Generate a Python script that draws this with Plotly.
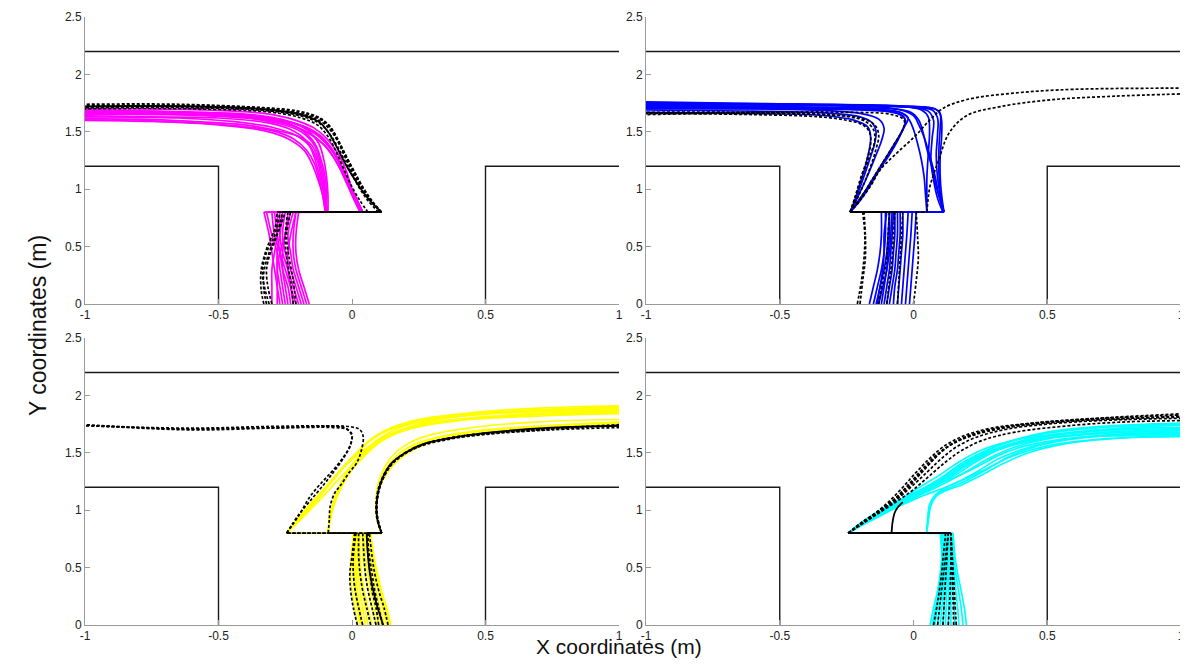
import plotly.graph_objects as go

# ---------------- environment (same in every panel) ----------------
WALL_TOP_X = [-1, 1]
WALL_TOP_Y = [2.2, 2.2]
WALL_LEFT_X = [-1, -0.5, -0.5]
WALL_LEFT_Y = [1.2, 1.2, 0]
WALL_RIGHT_X = [0.5, 0.5, 1]
WALL_RIGHT_Y = [0, 1.2, 1.2]

X_TICKS = [-1, -0.5, 0, 0.5, 1]
X_TICK_TEXT = ["-1", "-0.5", "0", "0.5", "1"]
Y_TICKS = [0, 0.5, 1, 1.5, 2, 2.5]
Y_TICK_TEXT = ["0", "0.5", "1", "1.5", "2", "2.5"]

# ---------------- panel 1 (magenta) ----------------
P1_COLOR_LOW = [
    [(-0.17, 0), (-0.19, 0.15), (-0.21, 0.3), (-0.22, 0.45), (-0.22, 0.6), (-0.21, 0.8)],
    [(-0.18, 0), (-0.20, 0.15), (-0.22, 0.3), (-0.23, 0.45), (-0.24, 0.6), (-0.22, 0.8)],
    [(-0.19, 0), (-0.21, 0.15), (-0.23, 0.3), (-0.25, 0.45), (-0.26, 0.6), (-0.25, 0.8)],
    [(-0.20, 0), (-0.22, 0.15), (-0.24, 0.3), (-0.26, 0.45), (-0.27, 0.6), (-0.27, 0.8)],
    [(-0.21, 0), (-0.23, 0.15), (-0.25, 0.3), (-0.27, 0.45), (-0.29, 0.6), (-0.30, 0.8)],
    [(-0.22, 0), (-0.23, 0.15), (-0.24, 0.3), (-0.24, 0.45), (-0.23, 0.6), (-0.21, 0.8)],
    [(-0.23, 0), (-0.24, 0.15), (-0.26, 0.3), (-0.27, 0.45), (-0.28, 0.6), (-0.29, 0.8)],
    [(-0.24, 0), (-0.25, 0.15), (-0.26, 0.3), (-0.26, 0.45), (-0.25, 0.6), (-0.23, 0.8)],
    [(-0.25, 0), (-0.26, 0.15), (-0.27, 0.3), (-0.28, 0.45), (-0.30, 0.6), (-0.32, 0.8)],
    [(-0.26, 0), (-0.27, 0.15), (-0.28, 0.3), (-0.28, 0.45), (-0.27, 0.6), (-0.26, 0.8)],
    [(-0.27, 0), (-0.28, 0.15), (-0.29, 0.3), (-0.30, 0.45), (-0.31, 0.6), (-0.33, 0.8)],
    [(-0.28, 0), (-0.28, 0.15), (-0.28, 0.3), (-0.27, 0.45), (-0.25, 0.6), (-0.24, 0.8)],
    [(-0.30, 0), (-0.30, 0.15), (-0.30, 0.3), (-0.29, 0.45), (-0.28, 0.6), (-0.28, 0.8)],
    [(-0.16, 0), (-0.18, 0.15), (-0.20, 0.3), (-0.21, 0.45), (-0.21, 0.6), (-0.20, 0.8)],
]
P1_COLOR_UP = [
    [(-0.095, 0.8), (-0.10, 0.95), (-0.11, 1.1), (-0.125, 1.25), (-0.15, 1.38), (-0.2, 1.46), (-0.28, 1.51), (-0.4, 1.56), (-0.6, 1.59), (-0.8, 1.61), (-1, 1.61)],
    [(-0.095, 0.8), (-0.10, 0.95), (-0.115, 1.1), (-0.13, 1.25), (-0.16, 1.38), (-0.22, 1.48), (-0.3, 1.54), (-0.45, 1.59), (-0.65, 1.62), (-1, 1.63)],
    [(-0.1, 0.8), (-0.105, 0.95), (-0.12, 1.1), (-0.14, 1.27), (-0.17, 1.42), (-0.23, 1.52), (-0.32, 1.58), (-0.5, 1.62), (-0.75, 1.63), (-1, 1.64)],
    [(-0.1, 0.8), (-0.1, 0.95), (-0.105, 1.1), (-0.12, 1.25), (-0.14, 1.38), (-0.19, 1.5), (-0.27, 1.57), (-0.4, 1.62), (-0.7, 1.65), (-1, 1.65)],
    [(-0.095, 0.8), (-0.095, 0.95), (-0.1, 1.1), (-0.115, 1.25), (-0.14, 1.4), (-0.19, 1.52), (-0.26, 1.59), (-0.4, 1.64), (-0.7, 1.66), (-1, 1.67)],
    [(-0.1, 0.8), (-0.11, 0.95), (-0.125, 1.1), (-0.14, 1.22), (-0.17, 1.34), (-0.22, 1.44), (-0.3, 1.51), (-0.42, 1.55), (-0.6, 1.58), (-1, 1.62)],
    [(-0.09, 0.8), (-0.09, 0.95), (-0.095, 1.1), (-0.105, 1.25), (-0.125, 1.4), (-0.17, 1.52), (-0.25, 1.6), (-0.38, 1.65), (-0.6, 1.67), (-1, 1.68)],
    [(-0.1, 0.8), (-0.11, 0.95), (-0.13, 1.1), (-0.15, 1.22), (-0.18, 1.34), (-0.24, 1.44), (-0.33, 1.51), (-0.5, 1.56), (-0.75, 1.59), (-1, 1.6)],
    [(0.04, 0.8), (0.02, 0.9), (0.0, 1.0), (-0.02, 1.15), (-0.05, 1.3), (-0.09, 1.43), (-0.14, 1.53), (-0.21, 1.6), (-0.33, 1.66), (-0.55, 1.69), (-0.8, 1.7), (-1, 1.7)],
    [(0.04, 0.8), (0.015, 0.92), (-0.01, 1.05), (-0.04, 1.2), (-0.08, 1.35), (-0.13, 1.47), (-0.2, 1.56), (-0.3, 1.62), (-0.5, 1.66), (-0.75, 1.68), (-1, 1.69)],
    [(0.03, 0.8), (0.005, 0.92), (-0.02, 1.05), (-0.05, 1.2), (-0.09, 1.35), (-0.15, 1.47), (-0.22, 1.55), (-0.32, 1.61), (-0.5, 1.65), (-1, 1.67)],
    [(0.04, 0.8), (0.01, 0.95), (-0.03, 1.12), (-0.07, 1.28), (-0.11, 1.4), (-0.17, 1.5), (-0.25, 1.57), (-0.38, 1.62), (-0.6, 1.65), (-1, 1.66)],
    [(0.035, 0.8), (0.01, 0.92), (-0.015, 1.05), (-0.04, 1.18), (-0.07, 1.32), (-0.11, 1.45), (-0.17, 1.54), (-0.26, 1.6), (-0.4, 1.64), (-0.7, 1.66), (-1, 1.68)],
    [(0.04, 0.8), (0.02, 0.88), (-0.005, 1.0), (-0.03, 1.15), (-0.06, 1.3), (-0.1, 1.42), (-0.16, 1.52), (-0.24, 1.59), (-0.36, 1.64), (-0.6, 1.67), (-1, 1.69)],
]
P1_DASH_LOW = [
    [(-0.31, 0), (-0.325, 0.12), (-0.335, 0.28), (-0.32, 0.45), (-0.29, 0.6), (-0.27, 0.8)],
    [(-0.32, 0), (-0.33, 0.12), (-0.33, 0.28), (-0.31, 0.45), (-0.28, 0.62), (-0.26, 0.8)],
    [(-0.30, 0), (-0.315, 0.15), (-0.32, 0.3), (-0.305, 0.45), (-0.28, 0.6), (-0.25, 0.8)],
    [(-0.22, 0), (-0.23, 0.2), (-0.245, 0.4), (-0.25, 0.6), (-0.24, 0.8)],
    [(-0.21, 0), (-0.22, 0.2), (-0.235, 0.4), (-0.245, 0.6), (-0.23, 0.8)],
    [(-0.33, 0), (-0.34, 0.12), (-0.34, 0.3), (-0.32, 0.48), (-0.29, 0.65), (-0.28, 0.8)],
]
P1_DASH_UP = [
    [(0.11, 0.8), (0.07, 0.9), (0.04, 1.0), (0.0, 1.15), (-0.03, 1.3), (-0.06, 1.45), (-0.09, 1.56), (-0.13, 1.63), (-0.2, 1.68), (-0.33, 1.71), (-0.6, 1.73), (-1, 1.73)],
    [(0.11, 0.8), (0.065, 0.92), (0.03, 1.05), (-0.005, 1.2), (-0.04, 1.36), (-0.07, 1.48), (-0.11, 1.58), (-0.17, 1.64), (-0.3, 1.69), (-0.55, 1.72), (-1, 1.72)],
    [(0.11, 0.8), (0.08, 0.88), (0.05, 0.98), (0.015, 1.12), (-0.02, 1.28), (-0.05, 1.42), (-0.08, 1.54), (-0.12, 1.62), (-0.2, 1.67), (-0.35, 1.71), (-0.65, 1.74), (-1, 1.74)],
    [(0.1, 0.8), (0.06, 0.9), (0.025, 1.02), (-0.01, 1.17), (-0.045, 1.33), (-0.08, 1.47), (-0.12, 1.57), (-0.18, 1.63), (-0.3, 1.68), (-0.6, 1.71), (-1, 1.71)],
    [(0.06, 0.8), (0.03, 0.9), (0.0, 1.02), (-0.03, 1.17), (-0.06, 1.33), (-0.09, 1.46), (-0.13, 1.56), (-0.19, 1.62), (-0.3, 1.67), (-0.6, 1.7), (-1, 1.7)],
    [(0.11, 0.8), (0.075, 0.9), (0.045, 1.0), (0.01, 1.15), (-0.025, 1.3), (-0.055, 1.44), (-0.085, 1.55), (-0.12, 1.61), (-0.2, 1.66), (-0.4, 1.7), (-1, 1.72)],
]
P1_MEAN_LOW = [(-0.1, 0.8)]
P1_MEAN_UP = [(0.11, 0.8), (0.06, 0.92), (0.02, 1.05), (-0.02, 1.2), (-0.06, 1.38), (-0.09, 1.5), (-0.12, 1.58), (-0.18, 1.64), (-0.3, 1.69), (-0.6, 1.72), (-1, 1.72)]

# ---------------- panel 2 (blue) ----------------
P2_COLOR_LOW = [
    [(-0.165, 0), (-0.15, 0.15), (-0.135, 0.3), (-0.125, 0.45), (-0.12, 0.6), (-0.12, 0.8)],
    [(-0.15, 0), (-0.135, 0.15), (-0.12, 0.3), (-0.11, 0.45), (-0.105, 0.6), (-0.105, 0.8)],
    [(-0.14, 0), (-0.125, 0.15), (-0.115, 0.3), (-0.11, 0.45), (-0.11, 0.6), (-0.1, 0.8)],
    [(-0.13, 0), (-0.115, 0.15), (-0.1, 0.3), (-0.095, 0.45), (-0.09, 0.6), (-0.09, 0.8)],
    [(-0.12, 0), (-0.11, 0.15), (-0.1, 0.3), (-0.09, 0.45), (-0.085, 0.6), (-0.08, 0.8)],
    [(-0.11, 0), (-0.1, 0.15), (-0.09, 0.3), (-0.085, 0.45), (-0.08, 0.6), (-0.075, 0.8)],
    [(-0.1, 0), (-0.09, 0.15), (-0.08, 0.3), (-0.075, 0.45), (-0.07, 0.6), (-0.07, 0.8)],
    [(-0.09, 0), (-0.08, 0.15), (-0.07, 0.3), (-0.065, 0.45), (-0.06, 0.6), (-0.06, 0.8)],
    [(-0.075, 0), (-0.07, 0.15), (-0.06, 0.3), (-0.055, 0.45), (-0.05, 0.6), (-0.05, 0.8)],
    [(-0.06, 0), (-0.055, 0.15), (-0.05, 0.3), (-0.045, 0.45), (-0.04, 0.6), (-0.04, 0.8)],
    [(-0.045, 0), (-0.04, 0.15), (-0.035, 0.3), (-0.03, 0.45), (-0.025, 0.6), (-0.02, 0.8)],
    [(-0.03, 0), (-0.025, 0.15), (-0.02, 0.3), (-0.015, 0.45), (-0.01, 0.6), (-0.005, 0.8)],
    [(-0.015, 0), (-0.01, 0.15), (-0.005, 0.3), (0.0, 0.45), (0.005, 0.6), (0.01, 0.8)],
    [(-0.135, 0), (-0.125, 0.15), (-0.11, 0.3), (-0.1, 0.45), (-0.095, 0.6), (-0.09, 0.8)],
]
P2_COLOR_UP = [
    [(0.114, 0.8), (0.105, 0.95), (0.1, 1.1), (0.1, 1.3), (0.105, 1.45), (0.105, 1.6), (0.095, 1.68), (0.06, 1.71), (-0.1, 1.73), (-0.4, 1.74), (-0.7, 1.75), (-1, 1.76)],
    [(0.114, 0.8), (0.1, 0.95), (0.09, 1.1), (0.085, 1.3), (0.09, 1.48), (0.09, 1.62), (0.07, 1.69), (0.02, 1.71), (-0.2, 1.73), (-0.6, 1.74), (-1, 1.75)],
    [(0.11, 0.8), (0.09, 0.92), (0.075, 1.08), (0.065, 1.25), (0.07, 1.45), (0.075, 1.6), (0.055, 1.68), (0.0, 1.71), (-0.3, 1.73), (-1, 1.74)],
    [(0.114, 0.8), (0.095, 0.95), (0.08, 1.12), (0.06, 1.3), (0.04, 1.45), (0.02, 1.56), (0.0, 1.64), (-0.05, 1.69), (-0.25, 1.71), (-0.6, 1.72), (-1, 1.73)],
    [(0.05, 0.8), (0.045, 0.95), (0.04, 1.1), (0.03, 1.25), (0.015, 1.4), (0.0, 1.52), (-0.015, 1.6), (-0.04, 1.66), (-0.15, 1.7), (-0.5, 1.71), (-1, 1.72)],
    [(0.05, 0.8), (0.05, 0.95), (0.05, 1.1), (0.055, 1.3), (0.06, 1.5), (0.055, 1.63), (0.03, 1.69), (-0.05, 1.72), (-0.4, 1.74), (-1, 1.75)],
    [(0.114, 0.8), (0.1, 0.9), (0.085, 1.02), (0.07, 1.18), (0.05, 1.35), (0.035, 1.5), (0.02, 1.6), (-0.01, 1.67), (-0.1, 1.71), (-0.5, 1.73), (-1, 1.74)],
    [(0.11, 0.8), (0.1, 0.95), (0.095, 1.15), (0.095, 1.35), (0.1, 1.55), (0.1, 1.65), (0.08, 1.7), (0.0, 1.72), (-0.35, 1.74), (-1, 1.73)],
    [(-0.237, 0.8), (-0.2, 0.92), (-0.16, 1.05), (-0.12, 1.2), (-0.08, 1.35), (-0.045, 1.5), (-0.03, 1.58), (-0.04, 1.64), (-0.1, 1.68), (-0.3, 1.7), (-0.6, 1.71), (-1, 1.72)],
    [(-0.237, 0.8), (-0.19, 0.95), (-0.15, 1.1), (-0.11, 1.25), (-0.07, 1.4), (-0.04, 1.52), (-0.03, 1.6), (-0.06, 1.66), (-0.2, 1.69), (-0.5, 1.7), (-1, 1.7)],
    [(-0.237, 0.8), (-0.22, 0.9), (-0.2, 1.05), (-0.18, 1.2), (-0.165, 1.35), (-0.16, 1.45), (-0.17, 1.54), (-0.22, 1.6), (-0.33, 1.64), (-0.6, 1.66), (-1, 1.67)],
    [(-0.237, 0.8), (-0.215, 0.92), (-0.19, 1.08), (-0.165, 1.25), (-0.145, 1.4), (-0.14, 1.5), (-0.155, 1.58), (-0.2, 1.63), (-0.3, 1.66), (-0.6, 1.68), (-1, 1.69)],
    [(-0.237, 0.8), (-0.205, 0.95), (-0.175, 1.1), (-0.145, 1.27), (-0.12, 1.42), (-0.11, 1.53), (-0.13, 1.61), (-0.2, 1.66), (-0.4, 1.69), (-1, 1.71)],
    [(-0.237, 0.8), (-0.2, 0.9), (-0.165, 1.02), (-0.13, 1.16), (-0.09, 1.3), (-0.06, 1.42), (-0.035, 1.54), (-0.02, 1.62), (-0.05, 1.67), (-0.2, 1.7), (-0.6, 1.72), (-1, 1.73)],
]
P2_DASH_LOW = [
    [(-0.21, 0), (-0.195, 0.2), (-0.185, 0.4), (-0.182, 0.6), (-0.19, 0.8)],
    [(-0.2, 0), (-0.19, 0.2), (-0.18, 0.4), (-0.18, 0.6), (-0.185, 0.8)],
    [(-0.1, 0), (-0.09, 0.2), (-0.08, 0.4), (-0.075, 0.6), (-0.07, 0.8)],
    [(0.0, 0), (0.01, 0.2), (0.018, 0.4), (0.015, 0.6), (0.01, 0.8)],
    [(-0.06, 0), (-0.055, 0.2), (-0.05, 0.4), (-0.045, 0.6), (-0.04, 0.8)],
    [(-0.13, 0), (-0.115, 0.2), (-0.1, 0.4), (-0.095, 0.6), (-0.09, 0.8)],
]
P2_DASH_UP = [
    [(-0.237, 0.8), (-0.22, 0.92), (-0.2, 1.08), (-0.175, 1.25), (-0.16, 1.4), (-0.165, 1.5), (-0.19, 1.56), (-0.25, 1.6), (-0.35, 1.63), (-0.6, 1.65), (-1, 1.66)],
    [(-0.237, 0.8), (-0.215, 0.95), (-0.19, 1.12), (-0.165, 1.28), (-0.145, 1.42), (-0.15, 1.52), (-0.18, 1.59), (-0.24, 1.63), (-0.4, 1.66), (-1, 1.67)],
    [(-0.237, 0.8), (-0.2, 0.9), (-0.16, 1.03), (-0.124, 1.17), (-0.06, 1.32), (0.005, 1.46), (0.06, 1.6), (0.107, 1.7), (0.198, 1.78), (0.39, 1.84), (0.6, 1.87), (1, 1.88)],
    [(0.05, 0.8), (0.055, 0.92), (0.062, 1.03), (0.08, 1.16), (0.095, 1.26), (0.133, 1.49), (0.198, 1.64), (0.326, 1.72), (0.52, 1.78), (0.75, 1.81), (1, 1.83)],
    [(-0.237, 0.8), (-0.19, 0.95), (-0.15, 1.1), (-0.11, 1.25), (-0.07, 1.4), (-0.04, 1.52), (-0.035, 1.6), (-0.08, 1.65), (-0.25, 1.67), (-0.6, 1.67), (-1, 1.66)],
    [(-0.237, 0.8), (-0.21, 0.92), (-0.185, 1.05), (-0.16, 1.2), (-0.14, 1.35), (-0.13, 1.47), (-0.145, 1.56), (-0.2, 1.62), (-0.35, 1.65), (-0.7, 1.66), (-1, 1.65)],
]
P2_MEAN_LOW = [(-0.1, 0.8)]
P2_MEAN_UP = [(-0.237, 0.8)]

# ---------------- panel 3 (yellow) ----------------
P3_COLOR_LOW = [
    [(0.02, 0), (0.01, 0.15), (0.0, 0.3), (-0.005, 0.45), (-0.002, 0.6), (0.005, 0.8)],
    [(0.03, 0), (0.02, 0.15), (0.01, 0.3), (0.005, 0.45), (0.005, 0.6), (0.01, 0.8)],
    [(0.04, 0), (0.03, 0.15), (0.02, 0.3), (0.015, 0.45), (0.012, 0.6), (0.015, 0.8)],
    [(0.05, 0), (0.04, 0.15), (0.03, 0.3), (0.022, 0.45), (0.02, 0.6), (0.02, 0.8)],
    [(0.06, 0), (0.05, 0.15), (0.04, 0.3), (0.03, 0.45), (0.025, 0.6), (0.025, 0.8)],
    [(0.075, 0), (0.06, 0.15), (0.045, 0.3), (0.035, 0.45), (0.03, 0.6), (0.03, 0.8)],
    [(0.09, 0), (0.075, 0.15), (0.06, 0.3), (0.05, 0.45), (0.04, 0.6), (0.04, 0.8)],
    [(0.1, 0), (0.085, 0.15), (0.07, 0.3), (0.06, 0.45), (0.05, 0.6), (0.045, 0.8)],
    [(0.11, 0), (0.095, 0.15), (0.08, 0.3), (0.07, 0.45), (0.06, 0.6), (0.05, 0.8)],
    [(0.12, 0), (0.105, 0.15), (0.09, 0.3), (0.08, 0.45), (0.07, 0.6), (0.06, 0.8)],
    [(0.13, 0), (0.115, 0.15), (0.1, 0.3), (0.088, 0.45), (0.075, 0.6), (0.065, 0.8)],
    [(0.14, 0), (0.125, 0.15), (0.105, 0.3), (0.09, 0.45), (0.08, 0.6), (0.067, 0.8)],
    [(0.145, 0), (0.13, 0.15), (0.11, 0.3), (0.095, 0.45), (0.082, 0.6), (0.07, 0.8)],
    [(0.035, 0), (0.025, 0.15), (0.015, 0.3), (0.01, 0.45), (0.01, 0.6), (0.012, 0.8)],
]
P3_COLOR_UP = [
    [(-0.245, 0.8), (-0.2, 0.92), (-0.15, 1.05), (-0.1, 1.18), (-0.05, 1.32), (0.0, 1.45), (0.05, 1.57), (0.1, 1.66), (0.18, 1.74), (0.3, 1.8), (0.5, 1.85), (0.75, 1.88), (1, 1.9)],
    [(-0.245, 0.8), (-0.19, 0.95), (-0.14, 1.08), (-0.09, 1.22), (-0.04, 1.36), (0.01, 1.48), (0.06, 1.6), (0.12, 1.69), (0.2, 1.76), (0.35, 1.82), (0.6, 1.86), (1, 1.89)],
    [(-0.245, 0.8), (-0.2, 0.9), (-0.15, 1.02), (-0.1, 1.14), (-0.05, 1.27), (0.0, 1.39), (0.05, 1.51), (0.11, 1.62), (0.2, 1.71), (0.35, 1.78), (0.6, 1.83), (1, 1.86)],
    [(-0.245, 0.8), (-0.18, 0.96), (-0.12, 1.12), (-0.07, 1.27), (-0.02, 1.41), (0.03, 1.53), (0.08, 1.63), (0.15, 1.72), (0.25, 1.79), (0.45, 1.85), (0.7, 1.89), (1, 1.91)],
    [(-0.245, 0.8), (-0.2, 0.94), (-0.15, 1.07), (-0.1, 1.2), (-0.05, 1.33), (0.0, 1.44), (0.06, 1.55), (0.13, 1.64), (0.22, 1.71), (0.4, 1.78), (0.7, 1.82), (1, 1.84)],
    [(-0.245, 0.8), (-0.19, 0.93), (-0.13, 1.1), (-0.08, 1.24), (-0.03, 1.38), (0.02, 1.5), (0.07, 1.61), (0.14, 1.7), (0.24, 1.77), (0.4, 1.83), (0.7, 1.87), (1, 1.9)],
    [(-0.089, 0.8), (-0.085, 0.92), (-0.07, 1.07), (-0.045, 1.22), (-0.01, 1.36), (0.04, 1.5), (0.1, 1.62), (0.18, 1.72), (0.3, 1.79), (0.5, 1.84), (0.75, 1.87), (1, 1.88)],
    [(-0.089, 0.8), (-0.08, 0.95), (-0.06, 1.1), (-0.03, 1.25), (0.01, 1.39), (0.06, 1.52), (0.13, 1.64), (0.22, 1.73), (0.35, 1.8), (0.6, 1.85), (1, 1.87)],
    [(-0.089, 0.8), (-0.085, 0.9), (-0.075, 1.03), (-0.055, 1.17), (-0.025, 1.31), (0.015, 1.44), (0.07, 1.56), (0.14, 1.66), (0.25, 1.74), (0.45, 1.8), (0.7, 1.83), (1, 1.85)],
    [(-0.089, 0.8), (-0.08, 0.93), (-0.065, 1.06), (-0.04, 1.2), (0.0, 1.35), (0.05, 1.48), (0.11, 1.6), (0.2, 1.7), (0.33, 1.77), (0.55, 1.82), (1, 1.86)],
    [(0.111, 0.8), (0.095, 0.92), (0.092, 1.05), (0.1, 1.2), (0.125, 1.35), (0.17, 1.48), (0.24, 1.58), (0.35, 1.65), (0.5, 1.7), (0.75, 1.74), (1, 1.76)],
    [(0.111, 0.8), (0.093, 0.93), (0.09, 1.06), (0.095, 1.2), (0.115, 1.34), (0.15, 1.47), (0.21, 1.58), (0.3, 1.66), (0.45, 1.72), (0.7, 1.77), (1, 1.79)],
    [(0.111, 0.8), (0.095, 0.92), (0.092, 1.05), (0.1, 1.18), (0.13, 1.32), (0.18, 1.45), (0.26, 1.56), (0.38, 1.64), (0.55, 1.69), (0.8, 1.73), (1, 1.75)],
    [(0.111, 0.8), (0.094, 0.92), (0.09, 1.04), (0.097, 1.18), (0.12, 1.3), (0.16, 1.43), (0.22, 1.54), (0.31, 1.62), (0.45, 1.68), (0.7, 1.73), (1, 1.77)],
]
P3_DASH_LOW = [
    [(0.02, 0), (0.005, 0.15), (-0.005, 0.3), (-0.008, 0.45), (0.0, 0.6), (0.01, 0.8)],
    [(0.09, 0), (0.075, 0.15), (0.06, 0.3), (0.05, 0.45), (0.045, 0.6), (0.04, 0.8)],
    [(0.115, 0), (0.1, 0.15), (0.085, 0.3), (0.075, 0.45), (0.065, 0.6), (0.055, 0.8)],
    [(0.135, 0), (0.12, 0.15), (0.1, 0.3), (0.085, 0.45), (0.075, 0.6), (0.065, 0.8)],
    [(0.07, 0), (0.055, 0.15), (0.04, 0.3), (0.03, 0.45), (0.025, 0.6), (0.025, 0.8)],
    [(0.1, 0), (0.09, 0.15), (0.075, 0.3), (0.068, 0.45), (0.062, 0.6), (0.06, 0.8)],
    [(0.04, 0), (0.025, 0.15), (0.012, 0.3), (0.005, 0.45), (0.005, 0.6), (0.015, 0.8)],
]
P3_DASH_UP = [
    [(-0.245, 0.8), (-0.2, 0.95), (-0.157, 1.12), (-0.11, 1.25), (-0.07, 1.35), (-0.03, 1.47), (-0.007, 1.556), (-0.001, 1.65), (-0.02, 1.71), (-0.06, 1.73), (-0.25, 1.72), (-0.5, 1.71), (-0.63, 1.705), (-0.8, 1.72), (-1, 1.745)],
    [(-0.089, 0.8), (-0.085, 0.92), (-0.082, 1.03), (-0.065, 1.15), (-0.045, 1.21), (-0.01, 1.33), (0.017, 1.41), (0.035, 1.52), (0.042, 1.64), (0.03, 1.7), (0.0, 1.725), (-0.1, 1.735), (-0.3, 1.73), (-0.6, 1.715), (-1, 1.735)],
    [(0.111, 0.8), (0.096, 0.92), (0.092, 1.05), (0.105, 1.22), (0.14, 1.38), (0.19, 1.48), (0.26, 1.56), (0.37, 1.62), (0.5, 1.66), (0.75, 1.7), (1, 1.72)],
    [(0.111, 0.8), (0.095, 0.93), (0.093, 1.06), (0.108, 1.23), (0.145, 1.39), (0.2, 1.5), (0.28, 1.58), (0.4, 1.64), (0.55, 1.68), (0.8, 1.72), (1, 1.735)],
    [(0.111, 0.8), (0.094, 0.92), (0.09, 1.04), (0.1, 1.2), (0.135, 1.37), (0.185, 1.48), (0.26, 1.57), (0.38, 1.63), (0.52, 1.67), (0.78, 1.71), (1, 1.74)],
    [(0.111, 0.8), (0.096, 0.94), (0.094, 1.08), (0.112, 1.25), (0.15, 1.4), (0.21, 1.51), (0.29, 1.59), (0.42, 1.65), (0.6, 1.69), (1, 1.745)],
    [(-0.245, 0.8), (-0.2, 0.96), (-0.15, 1.1), (-0.1, 1.24), (-0.06, 1.36), (-0.025, 1.48), (-0.005, 1.58), (0.0, 1.66), (-0.02, 1.705), (-0.07, 1.72), (-0.3, 1.715), (-0.6, 1.7), (-1, 1.74)],
]
P3_MEAN_LOW = [(0.117, 0.0), (0.09, 0.2), (0.067, 0.45), (0.058, 0.65), (0.055, 0.8)]
P3_MEAN_UP = [(0.111, 0.8), (0.095, 0.92), (0.092, 1.05), (0.105, 1.22), (0.144, 1.4), (0.2, 1.5), (0.272, 1.58), (0.4, 1.64), (0.53, 1.68), (0.75, 1.72), (1, 1.735)]

# ---------------- panel 4 (cyan) ----------------
P4_COLOR_LOW = [
    [(0.062, 0), (0.075, 0.15), (0.09, 0.3), (0.1, 0.45), (0.105, 0.6), (0.1, 0.8)],
    [(0.07, 0), (0.082, 0.15), (0.095, 0.3), (0.103, 0.45), (0.108, 0.6), (0.105, 0.8)],
    [(0.08, 0), (0.09, 0.15), (0.1, 0.3), (0.108, 0.45), (0.112, 0.6), (0.11, 0.8)],
    [(0.09, 0), (0.098, 0.15), (0.106, 0.3), (0.112, 0.45), (0.116, 0.6), (0.115, 0.8)],
    [(0.1, 0), (0.106, 0.15), (0.112, 0.3), (0.117, 0.45), (0.12, 0.6), (0.12, 0.8)],
    [(0.11, 0), (0.114, 0.15), (0.118, 0.3), (0.122, 0.45), (0.124, 0.6), (0.125, 0.8)],
    [(0.12, 0), (0.122, 0.15), (0.125, 0.3), (0.127, 0.45), (0.128, 0.6), (0.13, 0.8)],
    [(0.13, 0), (0.131, 0.15), (0.132, 0.3), (0.132, 0.45), (0.133, 0.6), (0.135, 0.8)],
    [(0.14, 0), (0.14, 0.15), (0.14, 0.3), (0.139, 0.45), (0.138, 0.6), (0.138, 0.8)],
    [(0.155, 0), (0.152, 0.15), (0.148, 0.3), (0.145, 0.45), (0.142, 0.6), (0.14, 0.8)],
    [(0.17, 0), (0.165, 0.15), (0.158, 0.3), (0.152, 0.45), (0.147, 0.6), (0.143, 0.8)],
    [(0.185, 0), (0.178, 0.15), (0.168, 0.3), (0.158, 0.45), (0.15, 0.6), (0.145, 0.8)],
    [(0.198, 0), (0.19, 0.15), (0.178, 0.3), (0.165, 0.45), (0.155, 0.6), (0.148, 0.8)],
    [(0.075, 0), (0.086, 0.15), (0.097, 0.3), (0.105, 0.45), (0.11, 0.6), (0.108, 0.8)],
]
P4_COLOR_UP = [
    [(-0.244, 0.8), (-0.2, 0.86), (-0.15, 0.92), (-0.1, 0.98), (-0.05, 1.04), (0.0, 1.1), (0.06, 1.18), (0.13, 1.28), (0.2, 1.39), (0.28, 1.49), (0.38, 1.57), (0.5, 1.63), (0.7, 1.67), (1, 1.69)],
    [(-0.244, 0.8), (-0.2, 0.87), (-0.15, 0.94), (-0.1, 1.0), (-0.04, 1.07), (0.02, 1.14), (0.08, 1.22), (0.15, 1.33), (0.23, 1.45), (0.32, 1.54), (0.45, 1.61), (0.65, 1.66), (1, 1.7)],
    [(-0.244, 0.8), (-0.19, 0.89), (-0.14, 0.96), (-0.08, 1.03), (-0.02, 1.1), (0.04, 1.18), (0.1, 1.27), (0.17, 1.38), (0.25, 1.49), (0.35, 1.59), (0.5, 1.67), (0.7, 1.72), (1, 1.75)],
    [(-0.244, 0.8), (-0.2, 0.88), (-0.15, 0.96), (-0.1, 1.03), (-0.04, 1.1), (0.03, 1.17), (0.1, 1.24), (0.17, 1.3), (0.24, 1.38), (0.32, 1.48), (0.42, 1.56), (0.6, 1.63), (0.8, 1.65), (1, 1.66)],
    [(-0.244, 0.8), (-0.19, 0.9), (-0.13, 0.99), (-0.07, 1.07), (0.0, 1.15), (0.07, 1.23), (0.14, 1.32), (0.21, 1.42), (0.3, 1.52), (0.42, 1.61), (0.6, 1.68), (0.8, 1.72), (1, 1.74)],
    [(-0.244, 0.8), (-0.2, 0.86), (-0.15, 0.93), (-0.09, 1.0), (-0.03, 1.06), (0.04, 1.13), (0.12, 1.2), (0.2, 1.28), (0.28, 1.37), (0.37, 1.47), (0.5, 1.56), (0.7, 1.62), (1, 1.64)],
    [(-0.244, 0.8), (-0.18, 0.9), (-0.12, 0.99), (-0.06, 1.07), (0.0, 1.14), (0.06, 1.22), (0.12, 1.31), (0.18, 1.41), (0.26, 1.51), (0.36, 1.6), (0.5, 1.68), (0.7, 1.73), (1, 1.76)],
    [(-0.244, 0.8), (-0.19, 0.88), (-0.13, 0.96), (-0.07, 1.04), (0.0, 1.12), (0.08, 1.21), (0.16, 1.31), (0.24, 1.43), (0.33, 1.54), (0.45, 1.62), (0.62, 1.68), (0.8, 1.71), (1, 1.72)],
    [(-0.244, 0.8), (-0.2, 0.87), (-0.14, 0.95), (-0.08, 1.02), (-0.02, 1.09), (0.05, 1.16), (0.12, 1.24), (0.2, 1.34), (0.28, 1.45), (0.38, 1.55), (0.52, 1.63), (0.72, 1.68), (1, 1.7)],
    [(0.049, 0.8), (0.055, 0.92), (0.062, 1.03), (0.075, 1.1), (0.1, 1.16), (0.14, 1.2), (0.2, 1.26), (0.27, 1.35), (0.35, 1.46), (0.45, 1.55), (0.6, 1.62), (0.8, 1.66), (1, 1.67)],
    [(0.049, 0.8), (0.053, 0.93), (0.06, 1.05), (0.08, 1.13), (0.115, 1.19), (0.17, 1.25), (0.24, 1.34), (0.32, 1.45), (0.42, 1.54), (0.55, 1.61), (0.75, 1.66), (1, 1.68)],
    [(0.049, 0.8), (0.056, 0.92), (0.065, 1.04), (0.085, 1.12), (0.12, 1.17), (0.18, 1.22), (0.25, 1.3), (0.33, 1.4), (0.43, 1.5), (0.57, 1.58), (0.78, 1.63), (1, 1.65)],
    [(-0.244, 0.8), (-0.19, 0.88), (-0.14, 0.95), (-0.08, 1.03), (-0.02, 1.11), (0.05, 1.19), (0.12, 1.28), (0.19, 1.39), (0.27, 1.5), (0.38, 1.59), (0.55, 1.66), (0.75, 1.7), (1, 1.72)],
    [(-0.244, 0.8), (-0.2, 0.87), (-0.15, 0.95), (-0.09, 1.03), (-0.03, 1.12), (0.03, 1.21), (0.1, 1.31), (0.17, 1.42), (0.25, 1.52), (0.36, 1.6), (0.52, 1.66), (0.75, 1.7), (1, 1.71)],
]
P4_DASH_LOW = [
    [(0.09, 0), (0.1, 0.2), (0.11, 0.4), (0.12, 0.6), (0.13, 0.8)],
    [(0.13, 0), (0.135, 0.2), (0.138, 0.4), (0.14, 0.6), (0.14, 0.8)],
    [(0.16, 0), (0.155, 0.2), (0.15, 0.4), (0.145, 0.6), (0.14, 0.8)],
    [(0.11, 0), (0.115, 0.2), (0.12, 0.4), (0.125, 0.6), (0.13, 0.8)],
    [(0.15, 0), (0.148, 0.2), (0.145, 0.4), (0.142, 0.6), (0.14, 0.8)],
    [(0.075, 0), (0.09, 0.2), (0.105, 0.45), (0.112, 0.62), (0.12, 0.8)],
]
P4_DASH_UP = [
    [(-0.244, 0.8), (-0.2, 0.88), (-0.15, 0.96), (-0.1, 1.04), (-0.05, 1.14), (0.0, 1.26), (0.05, 1.38), (0.1, 1.5), (0.16, 1.6), (0.25, 1.68), (0.4, 1.74), (0.6, 1.78), (0.8, 1.8), (1, 1.82)],
    [(-0.244, 0.8), (-0.19, 0.9), (-0.13, 0.99), (-0.07, 1.1), (-0.02, 1.22), (0.03, 1.35), (0.08, 1.47), (0.14, 1.57), (0.22, 1.65), (0.35, 1.72), (0.55, 1.77), (0.8, 1.8), (1, 1.81)],
    [(-0.244, 0.8), (-0.2, 0.87), (-0.14, 0.96), (-0.08, 1.06), (-0.03, 1.17), (0.02, 1.3), (0.07, 1.43), (0.12, 1.54), (0.19, 1.63), (0.3, 1.71), (0.5, 1.77), (0.75, 1.81), (1, 1.84)],
    [(-0.244, 0.8), (-0.18, 0.9), (-0.12, 0.99), (-0.06, 1.08), (0.0, 1.18), (0.06, 1.3), (0.12, 1.42), (0.18, 1.52), (0.26, 1.61), (0.38, 1.68), (0.6, 1.74), (0.8, 1.77), (1, 1.78)],
    [(-0.244, 0.8), (-0.2, 0.88), (-0.14, 0.98), (-0.09, 1.08), (-0.04, 1.2), (0.01, 1.33), (0.06, 1.45), (0.11, 1.55), (0.18, 1.64), (0.28, 1.71), (0.45, 1.76), (0.7, 1.8), (1, 1.83)],
    [(-0.244, 0.8), (-0.19, 0.89), (-0.13, 0.98), (-0.07, 1.08), (-0.01, 1.2), (0.05, 1.33), (0.1, 1.44), (0.16, 1.55), (0.24, 1.64), (0.36, 1.71), (0.55, 1.76), (0.8, 1.79), (1, 1.8)],
]
P4_MEAN_LOW = [(0.049, 0.8)]
P4_MEAN_UP = [(-0.082, 0.8), (-0.078, 0.9), (-0.07, 0.98), (-0.057, 1.03), (-0.04, 1.07)]

PANELS = [
    dict(color="#ff00ff", low=P1_COLOR_LOW, up=P1_COLOR_UP, dlow=P1_DASH_LOW, dup=P1_DASH_UP, mlow=P1_MEAN_LOW, mup=P1_MEAN_UP),
    dict(color="#0000ff", low=P2_COLOR_LOW, up=P2_COLOR_UP, dlow=P2_DASH_LOW, dup=P2_DASH_UP, mlow=P2_MEAN_LOW, mup=P2_MEAN_UP),
    dict(color="#ffff00", low=P3_COLOR_LOW, up=P3_COLOR_UP, dlow=P3_DASH_LOW, dup=P3_DASH_UP, mlow=P3_MEAN_LOW, mup=P3_MEAN_UP),
    dict(color="#00ffff", low=P4_COLOR_LOW, up=P4_COLOR_UP, dlow=P4_DASH_LOW, dup=P4_DASH_UP, mlow=P4_MEAN_LOW, mup=P4_MEAN_UP),
]


def curves(paths):
    xs, ys = [], []
    for p in paths:
        for x, y in p:
            xs.append(x)
            ys.append(y)
        xs.append(None)
        ys.append(None)
    return xs, ys


def joins(lows, ups):
    xs, ys = [], []
    for lo, up in zip(lows, ups):
        xs += [lo[-1][0], up[0][0], None]
        ys += [lo[-1][1], up[0][1], None]
    return xs, ys


fig = go.Figure()

# the page body has an 8px margin, so the figure is 1180x658 and positions are offset by 8px
FIG_W, FIG_H, OFF = 1180, 658, 8
DOM_X = [[(85 - OFF) / FIG_W, (619 - OFF) / FIG_W], [(646 - OFF) / FIG_W, (1181 - OFF) / FIG_W]]
DOM_Y = [[1 - (304 - OFF) / FIG_H, 1 - (17 - OFF) / FIG_H], [1 - (625 - OFF) / FIG_H, 1 - (338 - OFF) / FIG_H]]

for i, pan in enumerate(PANELS):
    ax = "" if i == 0 else str(i + 1)
    xr, yr = "x" + ax, "y" + ax
    wall = dict(color="#1a1a1a", width=1.4)
    for wx, wy in [(WALL_TOP_X, WALL_TOP_Y), (WALL_LEFT_X, WALL_LEFT_Y), (WALL_RIGHT_X, WALL_RIGHT_Y)]:
        fig.add_trace(go.Scatter(x=wx, y=wy, mode="lines", line=wall, xaxis=xr, yaxis=yr,
                                 showlegend=False, hoverinfo="skip"))
    col = pan["color"]
    cx, cy = curves(pan["low"] + pan["up"])
    fig.add_trace(go.Scatter(x=cx, y=cy, mode="lines", line=dict(color=col, width=1.7, shape="spline", smoothing=1.0),
                             xaxis=xr, yaxis=yr, showlegend=False, hoverinfo="skip"))
    hx, hy = joins(pan["low"], pan["up"])
    fig.add_trace(go.Scatter(x=hx, y=hy, mode="lines", line=dict(color=col, width=1.8),
                             xaxis=xr, yaxis=yr, showlegend=False, hoverinfo="skip"))
    mx, my = curves([pan["mlow"], pan["mup"]])
    fig.add_trace(go.Scatter(x=mx, y=my, mode="lines", line=dict(color="black", width=1.8, shape="spline"),
                             xaxis=xr, yaxis=yr, showlegend=False, hoverinfo="skip"))
    mhx, mhy = joins([pan["mlow"]], [pan["mup"]])
    fig.add_trace(go.Scatter(x=mhx, y=mhy, mode="lines", line=dict(color="black", width=1.8),
                             xaxis=xr, yaxis=yr, showlegend=False, hoverinfo="skip"))
    dx, dy = curves(pan["dlow"] + pan["dup"])
    fig.add_trace(go.Scatter(x=dx, y=dy, mode="lines",
                             line=dict(color="black", width=1.7, dash="3px,2px", shape="spline", smoothing=1.0),
                             xaxis=xr, yaxis=yr, showlegend=False, hoverinfo="skip"))
    dhx, dhy = joins(pan["dlow"], pan["dup"])
    fig.add_trace(go.Scatter(x=dhx, y=dhy, mode="lines", line=dict(color="black", width=1.7, dash="3px,2px"),
                             xaxis=xr, yaxis=yr, showlegend=False, hoverinfo="skip"))

axis_common = dict(showline=True, linecolor="#9a9a9a", linewidth=1, ticks="inside", ticklen=5,
                   tickcolor="#9a9a9a", showgrid=False, zeroline=False, mirror=False,
                   tickfont=dict(family="Liberation Sans, Arial, sans-serif", size=12, color="#222"))
layout = dict(width=FIG_W, height=FIG_H, paper_bgcolor="white", plot_bgcolor="white",
              margin=dict(l=0, r=0, t=0, b=0, autoexpand=False), showlegend=False)
for i in range(4):
    ax = "" if i == 0 else str(i + 1)
    col_i, row_i = i % 2, i // 2
    layout["xaxis" + ax] = dict(domain=DOM_X[col_i], range=[-1, 1], anchor="y" + ax,
                                tickvals=X_TICKS, ticktext=X_TICK_TEXT, **axis_common)
    layout["yaxis" + ax] = dict(domain=DOM_Y[row_i], range=[0, 2.5], anchor="x" + ax,
                                tickvals=Y_TICKS, ticktext=Y_TICK_TEXT, **axis_common)
fig.update_layout(**layout)
fig.add_annotation(text="X coordinates (m)", x=(619 - OFF) / FIG_W, y=1 - (659 - OFF) / FIG_H,
                   xref="paper", yref="paper", showarrow=False, borderpad=0,
                   font=dict(family="Liberation Sans, Arial, sans-serif", size=21, color="#111"))
fig.add_annotation(text="Y coordinates (m)", x=(23 - OFF) / FIG_W, y=1 - (326 - OFF) / FIG_H,
                   xref="paper", yref="paper", showarrow=False, textangle=-90,
                   font=dict(family="Liberation Sans, Arial, sans-serif", size=23, color="#111"))

fig.write_html("out.html")
